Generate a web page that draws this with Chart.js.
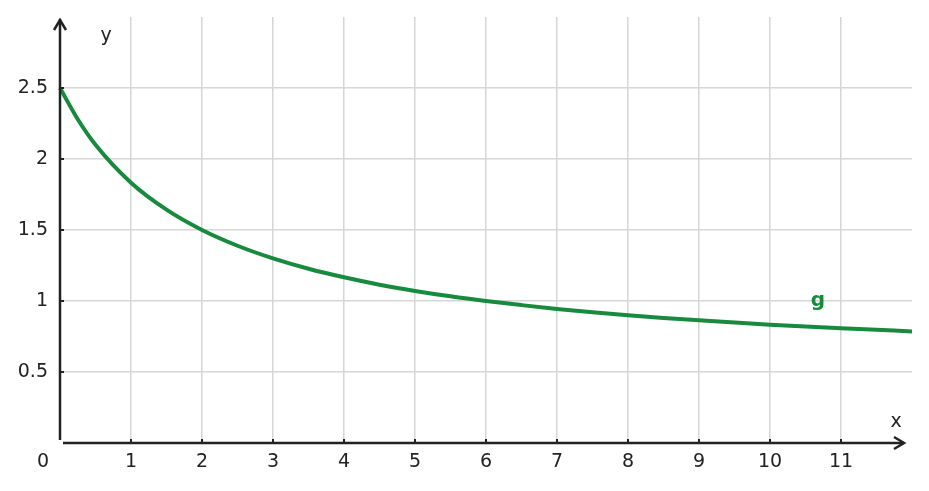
<!DOCTYPE html>
<html>
<head>
<meta charset="utf-8">
<script src="https://cdn.jsdelivr.net/npm/chart.js@4/dist/chart.umd.min.js"></script>
<style>
  html, body { margin: 0; padding: 0; background: #fff; }
  #wrap { width: 929px; height: 491px; position: relative; }
</style>
</head>
<body>
<div id="wrap"><canvas id="graf"></canvas></div>
<script>
// values
const xs = [0, 0.25, 0.5, 1, 1.5, 2, 2.5, 3, 3.5, 4, 4.5, 5, 5.5, 6, 6.5, 7, 7.5, 8, 8.5, 9, 9.5, 10, 10.5, 11, 11.5, 12];
const gValues = [2.5, 2.28, 2.1, 1.833, 1.643, 1.5, 1.389, 1.3, 1.227, 1.167, 1.115, 1.071, 1.033, 1.0, 0.971, 0.944, 0.921, 0.9, 0.881, 0.864, 0.848, 0.833, 0.82, 0.808, 0.797, 0.786];
const xTicks = [1, 2, 3, 4, 5, 6, 7, 8, 9, 10, 11];
const yTicks = [0.5, 1, 1.5, 2, 2.5];

const ink = '#222222';
const verde = '#178a3e';
const fuente = '"DejaVu Sans", sans-serif';

const puntos = xs.map((x, i) => ({ x: x, y: gValues[i] }));

// axes with arrows, tick marks, extra labels
const ejes = {
  id: 'ejes',
  afterDatasetsDraw(chart) {
    const c = chart.ctx;
    const sx = chart.scales.x, sy = chart.scales.y;
    const x0 = sx.getPixelForValue(0), y0 = sy.getPixelForValue(0);
    c.save();
    c.strokeStyle = ink;
    c.fillStyle = ink;
    c.lineWidth = 2.5;
    c.lineCap = 'butt';
    // y axis
    c.beginPath();
    c.moveTo(x0, y0 - 3);
    c.lineTo(x0, 19);
    c.stroke();
    c.beginPath();
    c.moveTo(x0 - 6, 30);
    c.lineTo(x0, 20);
    c.lineTo(x0 + 6, 30);
    c.stroke();
    // x axis
    c.beginPath();
    c.moveTo(x0 + 3, y0);
    c.lineTo(904, y0);
    c.stroke();
    c.beginPath();
    c.moveTo(894, y0 - 6);
    c.lineTo(904, y0);
    c.lineTo(894, y0 + 6);
    c.stroke();
    // tick marks
    c.lineWidth = 2;
    xTicks.forEach(v => {
      const px = sx.getPixelForValue(v);
      c.beginPath();
      c.moveTo(px, y0);
      c.lineTo(px, y0 - 4);
      c.stroke();
    });
    yTicks.forEach(v => {
      const py = sy.getPixelForValue(v);
      c.beginPath();
      c.moveTo(x0, py);
      c.lineTo(x0 + 4, py);
      c.stroke();
    });
    // labels
    c.font = '19px ' + fuente;
    c.textBaseline = 'middle';
    c.textAlign = 'center';
    c.fillText('0', 43, 462);
    c.fillText('y', 106, 36);
    c.fillText('x', 896, 422);
    c.fillStyle = verde;
    c.font = 'bold 20px ' + fuente;
    c.fillText('g', 818, 301);
    c.restore();
  }
};

new Chart(document.getElementById('graf'), {
  type: 'scatter',
  data: {
    datasets: [{
      label: 'g',
      data: puntos,
      showLine: true,
      borderColor: verde,
      borderWidth: 4,
      pointRadius: 0,
      cubicInterpolationMode: 'monotone',
      fill: false
    }]
  },
  options: {
    responsive: true,
    maintainAspectRatio: false,
    animation: false,
    clip: false,
    layout: { padding: { top: 17, right: 17, left: 0, bottom: 0 } },
    plugins: { legend: { display: false }, tooltip: { enabled: false } },
    scales: {
      x: {
        type: 'linear',
        min: 0,
        max: 12,
        afterFit(s) { s.height = 48; s.paddingLeft = 0; s.paddingRight = 0; },
        afterBuildTicks(s) { s.ticks = [0].concat(xTicks, [12]).map(v => ({ value: v })); },
        border: { display: false },
        grid: {
          color: ctx => (ctx.tick && xTicks.includes(ctx.tick.value)) ? '#d6d6d6' : 'rgba(0,0,0,0)',
          lineWidth: 1.5,
          drawTicks: false
        },
        ticks: {
          color: ink,
          font: { family: fuente, size: 19 },
          padding: 8,
          maxRotation: 0,
          autoSkip: false,
          callback: v => xTicks.includes(v) ? String(v) : ''
        }
      },
      y: {
        type: 'linear',
        min: 0,
        max: 3,
        afterFit(s) { s.width = 60; s.paddingTop = 0; s.paddingBottom = 0; },
        afterBuildTicks(s) { s.ticks = [0].concat(yTicks, [3]).map(v => ({ value: v })); },
        border: { display: false },
        grid: {
          color: ctx => (ctx.tick && yTicks.includes(ctx.tick.value)) ? '#d6d6d6' : 'rgba(0,0,0,0)',
          lineWidth: 1.5,
          drawTicks: false
        },
        ticks: {
          color: ink,
          font: { family: fuente, size: 19 },
          padding: 12,
          autoSkip: false,
          callback: v => yTicks.includes(v) ? String(v) : ''
        }
      }
    }
  },
  plugins: [ejes]
});
</script>
</body>
</html>
